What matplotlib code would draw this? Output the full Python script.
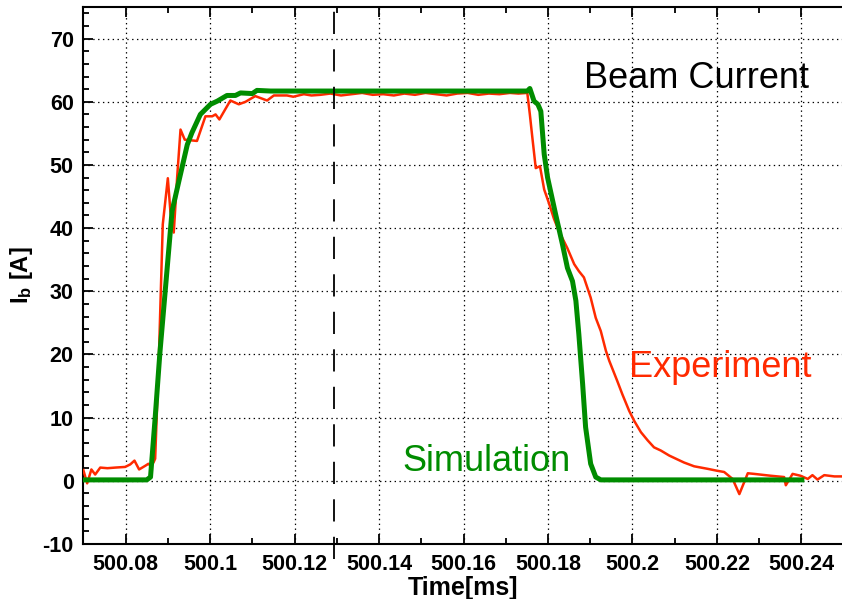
import matplotlib
matplotlib.use("Agg")
import matplotlib.pyplot as plt
from matplotlib.ticker import MultipleLocator, FixedLocator

plt.rcParams['font.family'] = ['Liberation Sans', 'DejaVu Sans']
plt.rcParams['mathtext.fontset'] = 'custom'
plt.rcParams['mathtext.rm'] = 'Liberation Sans'
plt.rcParams['mathtext.bf'] = 'Liberation Sans:bold'
plt.rcParams['lines.scale_dashes'] = False
plt.rcParams['axes.unicode_minus'] = False

# experiment (red) trace
exp_t = [500.0700, 500.0709, 500.0719, 500.0728, 500.0740, 500.0757, 500.0776, 500.0799,
         500.0811, 500.0821, 500.0832, 500.0847, 500.0854, 500.0859, 500.0866, 500.0870,
         500.0879, 500.0888, 500.0900, 500.0906, 500.0914, 500.0922, 500.0930, 500.0940,
         500.0969, 500.0989, 500.1005, 500.1013, 500.1022, 500.1048, 500.1068, 500.1084,
         500.1107, 500.1135, 500.1151, 500.1182, 500.1197, 500.1222, 500.1240, 500.1261,
         500.1285, 500.1310, 500.1335, 500.1360, 500.1385, 500.1410, 500.1435, 500.1460,
         500.1485, 500.1510, 500.1535, 500.1560, 500.1585, 500.1610, 500.1635, 500.1660,
         500.1685, 500.1710, 500.1730, 500.1751, 500.1757, 500.1763, 500.1771, 500.1781,
         500.1791, 500.1802, 500.1814, 500.1826, 500.1846, 500.1862, 500.1873, 500.1885,
         500.1901, 500.1913, 500.1925, 500.1937, 500.1945, 500.1964, 500.1976, 500.1992,
         500.2004, 500.2020, 500.2036, 500.2051, 500.2067, 500.2087, 500.2106, 500.2122,
         500.2146, 500.2178, 500.2200, 500.2217, 500.2237, 500.2253, 500.2273, 500.2288,
         500.2328, 500.2359, 500.2363, 500.2379, 500.2398, 500.2415, 500.2426, 500.2438,
         500.2454, 500.2478, 500.2498]
exp_i = [1.7, -0.4, 1.8, 1.0, 2.1, 2.0, 2.1, 2.2,
         2.6, 3.2, 1.8, 2.4, 2.7, 2.4, 2.9, 3.5,
         20.0, 40.6, 47.9, 42.7, 39.3, 48.0, 55.6, 54.0,
         53.8, 57.7, 57.7, 58.0, 57.2, 60.2, 59.6, 60.0,
         60.9, 60.2, 61.0, 61.0, 60.8, 61.2, 61.0, 61.1,
         61.3, 61.0, 61.2, 61.4, 61.1, 61.2, 61.0, 61.3,
         61.1, 61.4, 61.2, 61.0, 61.3, 61.4, 61.1, 61.3,
         61.2, 61.4, 61.3, 61.4, 58.0, 54.3, 49.5, 49.8,
         46.1, 44.0, 41.5, 39.5, 36.8, 34.3, 33.2, 32.2,
         29.0, 25.8, 23.7, 20.6, 19.0, 15.8, 13.7, 11.1,
         9.5, 7.7, 6.4, 5.3, 4.8, 4.0, 3.4, 2.9,
         2.3, 1.9, 1.6, 1.4, 0.3, -2.1, 1.2, 1.1,
         0.8, 0.6, -0.7, 1.1, 0.8, 0.3, 0.9, 0.2,
         0.9, 0.7, 0.7]

# simulation (green) trace
sim_t = [500.0700, 500.0850, 500.0859, 500.0870, 500.0881, 500.0895, 500.0910, 500.0926,
         500.0946, 500.0957, 500.0977, 500.1001, 500.1017, 500.1040, 500.1060, 500.1072,
         500.1100, 500.1111, 500.1143, 500.1751, 500.1757, 500.1767, 500.1776, 500.1783,
         500.1791, 500.1799, 500.1818, 500.1834, 500.1846, 500.1858, 500.1866, 500.1873,
         500.1882, 500.1889, 500.1901, 500.1913, 500.1925, 500.2401]
sim_i = [0.15, 0.15, 0.6, 10.0, 20.1, 31.0, 42.7, 47.4,
         53.2, 55.1, 58.0, 59.6, 60.1, 61.0, 61.0, 61.4,
         61.3, 61.8, 61.7, 61.7, 62.1, 60.1, 59.6, 58.5,
         51.7, 48.0, 42.2, 37.5, 33.7, 31.6, 28.5, 23.2,
         15.3, 8.5, 2.7, 0.6, 0.15, 0.15]

marker_time = 500.1293
xticks = [500.08, 500.10, 500.12, 500.14, 500.16, 500.18, 500.20, 500.22, 500.24]
xtick_labels = ['500.08', '500.1', '500.12', '500.14', '500.16', '500.18', '500.2', '500.22', '500.24']
yticks = [-10, 0, 10, 20, 30, 40, 50, 60, 70]

red = '#ff2a00'
green = '#008c00'

fig = plt.figure(figsize=(8.42, 5.99), dpi=100)
ax = fig.add_axes([0.099, 0.0918, 0.902, 0.8965])

ax.plot(exp_t, exp_i, color=red, lw=1.8, zorder=3)
ax.plot(sim_t, sim_i, color=green, lw=3.6, zorder=4, solid_joinstyle='round')
ax.vlines(marker_time, -12.3, 75, colors='black', lw=1.3,
          linestyles=[(0, (16, 11))], clip_on=False, zorder=5)

ax.set_xlim(500.0700, 500.2498)
ax.set_ylim(-10, 75)
ax.xaxis.set_major_locator(FixedLocator(xticks))
ax.set_xticklabels(xtick_labels)
ax.xaxis.set_minor_locator(MultipleLocator(0.01))
ax.yaxis.set_major_locator(FixedLocator(yticks))
ax.yaxis.set_minor_locator(MultipleLocator(2))

ax.grid(True, which='major', color='black', linestyle=(0, (1, 2.5)), lw=0.9)
ax.tick_params(which='both', direction='in', top=True, right=False, width=1.3)
ax.tick_params(which='major', length=7, labelsize=15.5, pad=7)
ax.tick_params(which='minor', length=4)
for lab in ax.get_xticklabels() + ax.get_yticklabels():
    lab.set_fontweight('bold')
for side in ['left', 'bottom', 'top']:
    ax.spines[side].set_linewidth(1.5)
ax.spines['right'].set_visible(False)

ax.set_xlabel('Time[ms]', fontsize=18, fontweight='bold', labelpad=1)
ax.set_ylabel(r'$\mathbf{I_b}$ [A]', fontsize=17, fontweight='bold', labelpad=5)

ax.text(500.1885, 62.2, 'Beam Current', fontsize=26, color='black', va='baseline')
ax.text(500.1991, 16.4, 'Experiment', fontsize=26, color=red, va='baseline')
ax.text(500.1455, 1.6, 'Simulation', fontsize=26, color=green, va='baseline')

plt.savefig('out.png', dpi=100)
